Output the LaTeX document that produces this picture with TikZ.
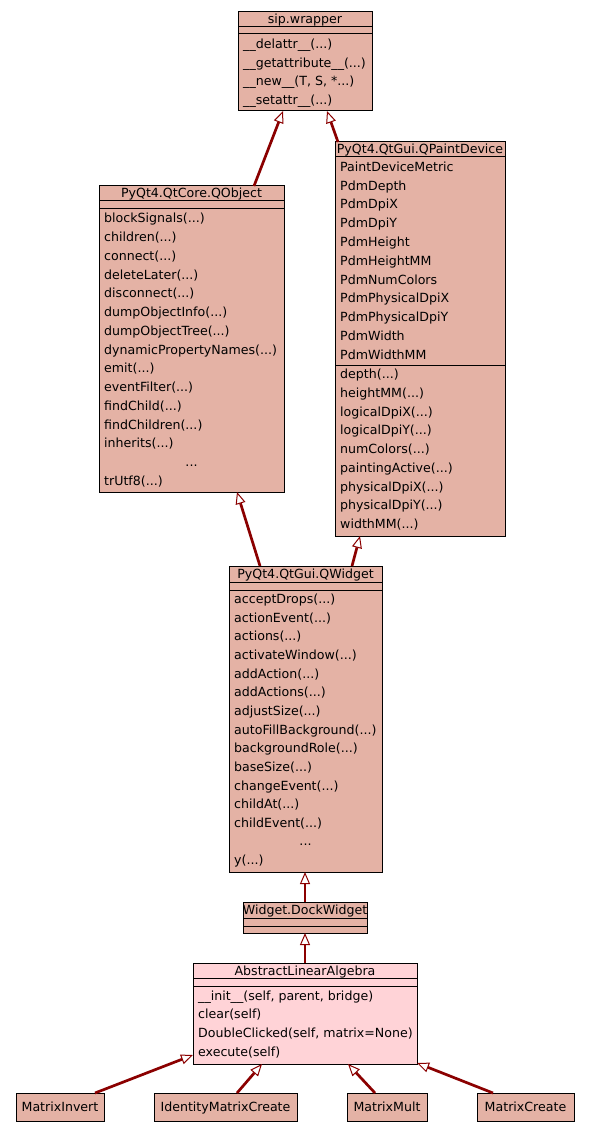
\documentclass[tikz,border=0pt]{standalone}
\usepackage{fontspec}
\setmainfont{DejaVu Sans}
\usetikzlibrary{arrows.meta}
\definecolor{boxfill}{HTML}{E4B2A5}
\definecolor{pinkfill}{HTML}{FFD3D7}
\definecolor{edgered}{HTML}{8B0000}
\newcommand{\myel}{...}
\begin{document}
\begin{tikzpicture}[x=1pt,y=-1pt,
  umlbox/.style={draw=black, line width=1pt, fill=boxfill, rectangle, anchor=north west, inner sep=0pt, outer sep=0pt},
  sepline/.style={draw=black, line width=1pt},
  txt/.style={inner sep=0pt, text height=11pt, text depth=2pt, font=\fontsize{12.6}{15}\selectfont},
  item/.style={txt, anchor=west, inner xsep=5pt},
  ttl/.style={txt, anchor=center},
  inherit/.style={draw=edgered, line width=2.7pt, -{Triangle[length=12pt,width=10pt,fill=white,line width=1pt]}}
]
\fill[white] (0,0) rectangle (589,1131);
\useasboundingbox (0,0) rectangle (589,1131);

% sip.wrapper
\node[umlbox, minimum width=134pt, minimum height=99pt] (sip) at (238,12) {};
\draw[sepline] (sip.west |- 0,27) -- (sip.east |- 0,27);
\draw[sepline] (sip.west |- 0,34) -- (sip.east |- 0,34);
\node[ttl] (sip-t) at (sip.center |- 0,19.5) {sip.wrapper};
\foreach \t [count=\i, evaluate=\i as \yy using 44+(\i-1)*18.6] in
  {{\_\_delattr\_\_(\myel)},{\_\_getattribute\_\_(\myel)},{\_\_new\_\_(T, S, *\myel)},{\_\_setattr\_\_(\myel)}}
  \node[item] (sip-\i) at (sip.west |- 0,\yy) {\t};

% QObject
\node[umlbox, minimum width=185pt, minimum height=306pt] (qobj) at (99,186) {};
\draw[sepline] (qobj.west |- 0,201) -- (qobj.east |- 0,201);
\draw[sepline] (qobj.west |- 0,209) -- (qobj.east |- 0,209);
\node[ttl] (qobj-t) at (qobj.center |- 0,193.5) {PyQt4.QtCore.QObject};
\foreach \t [count=\i, evaluate=\i as \yy using 218.4+(\i-1)*18.75] in
  {blockSignals(\myel),children(\myel),connect(\myel),deleteLater(\myel),disconnect(\myel),dumpObjectInfo(\myel),dumpObjectTree(\myel),dynamicPropertyNames(\myel),emit(\myel),eventFilter(\myel),findChild(\myel),findChildren(\myel),inherits(\myel)}
  \node[item] (qobj-\i) at (qobj.west |- 0,\yy) {\t};
\node[ttl] (qobj-dots) at (qobj.center |- 0,462.2) {...};
\node[item] (qobj-15) at (qobj.west |- 0,480.9) {trUtf8(...)};

% QPaintDevice
\node[umlbox, minimum width=170pt, minimum height=394pt] (qpd) at (335,142) {};
\draw[sepline] (qpd.west |- 0,157) -- (qpd.east |- 0,157);
\draw[sepline] (qpd.west |- 0,365) -- (qpd.east |- 0,365);
\node[ttl] (qpd-t) at (qpd.center |- 0,149.5) {PyQt4.QtGui.QPaintDevice};
\foreach \t [count=\i, evaluate=\i as \yy using 167+(\i-1)*18.75] in
  {PaintDeviceMetric,PdmDepth,PdmDpiX,PdmDpiY,PdmHeight,PdmHeightMM,PdmNumColors,PdmPhysicalDpiX,PdmPhysicalDpiY,PdmWidth,PdmWidthMM}
  \node[item] (qpda-\i) at (qpd.west |- 0,\yy) {\t};
\foreach \t [count=\i, evaluate=\i as \yy using 374+(\i-1)*18.75] in
  {depth(\myel),heightMM(\myel),logicalDpiX(\myel),logicalDpiY(\myel),numColors(\myel),paintingActive(\myel),physicalDpiX(\myel),physicalDpiY(\myel),widthMM(\myel)}
  \node[item] (qpdm-\i) at (qpd.west |- 0,\yy) {\t};

% QWidget
\node[umlbox, minimum width=153pt, minimum height=306pt] (qw) at (229,566) {};
\draw[sepline] (qw.west |- 0,582) -- (qw.east |- 0,582);
\draw[sepline] (qw.west |- 0,590) -- (qw.east |- 0,590);
\node[ttl] (qw-t) at (qw.center |- 0,574) {PyQt4.QtGui.QWidget};
\foreach \t [count=\i, evaluate=\i as \yy using 599+(\i-1)*18.65] in
  {acceptDrops(\myel),actionEvent(\myel),actions(\myel),activateWindow(\myel),addAction(\myel),addActions(\myel),adjustSize(\myel),autoFillBackground(\myel),backgroundRole(\myel),baseSize(\myel),changeEvent(\myel),childAt(\myel),childEvent(\myel)}
  \node[item] (qw-\i) at (qw.west |- 0,\yy) {\t};
\node[ttl] (qw-dots) at (qw.center |- 0,841) {...};
\node[item] (qw-15) at (qw.west |- 0,859.5) {y(...)};

% Widget.DockWidget
\node[umlbox, minimum width=124pt, minimum height=31pt] (dock) at (243,902) {};
\draw[sepline] (dock.west |- 0,918) -- (dock.east |- 0,918);
\draw[sepline] (dock.west |- 0,926) -- (dock.east |- 0,926);
\node[ttl] (dock-t) at (dock.center |- 0,910) {Widget.DockWidget};

% AbstractLinearAlgebra
\node[umlbox, fill=pinkfill, minimum width=224pt, minimum height=101pt] (ala) at (193,963) {};
\draw[sepline] (ala.west |- 0,978) -- (ala.east |- 0,978);
\draw[sepline] (ala.west |- 0,986) -- (ala.east |- 0,986);
\node[ttl] (ala-t) at (ala.center |- 0,970.5) {AbstractLinearAlgebra};
\foreach \t [count=\i, evaluate=\i as \yy using 995.5+(\i-1)*18.7] in
  {{\_\_init\_\_(self, parent, bridge)},clear(self),{DoubleClicked(self, matrix=None)},execute(self)}
  \node[item] (ala-\i) at (ala.west |- 0,\yy) {\t};

% bottom classes
\node[umlbox, minimum width=88pt, minimum height=28pt] (mi) at (16,1093) {};
\node[ttl] (mi-t) at (mi.center) {MatrixInvert};
\node[umlbox, minimum width=143pt, minimum height=28pt] (imc) at (154,1093) {};
\node[ttl] (imc-t) at (imc.center) {IdentityMatrixCreate};
\node[umlbox, minimum width=80pt, minimum height=28pt] (mm) at (347,1093) {};
\node[ttl] (mm-t) at (mm.center) {MatrixMult};
\node[umlbox, minimum width=97pt, minimum height=28pt] (mc) at (477,1093) {};
\node[ttl] (mc-t) at (mc.center) {MatrixCreate};

% inheritance
\draw[inherit] ([xshift=155pt]qobj.north west) -- ([xshift=45pt]sip.south west);
\draw[inherit] ([xshift=3pt]qpd.north west) -- ([xshift=89pt]sip.south west);
\draw[inherit] ([xshift=31pt]qw.north west) -- ([xshift=138pt]qobj.south west);
\draw[inherit] ([xshift=123pt]qw.north west) -- ([xshift=25pt]qpd.south west);
\draw[inherit] (dock.north) -- (dock.north |- qw.south);
\draw[inherit] (ala.north) -- (ala.north |- dock.south);
\draw[inherit] ([xshift=79pt]mi.north west) -- ([yshift=9pt]ala.south west);
\draw[inherit] ([xshift=83pt]imc.north west) -- ([xshift=69pt]ala.south west);
\draw[inherit] ([xshift=28pt]mm.north west) -- ([xshift=155pt]ala.south west);
\draw[inherit] ([xshift=16pt]mc.north west) -- ([yshift=1pt]ala.south east);
\end{tikzpicture}
\end{document}
